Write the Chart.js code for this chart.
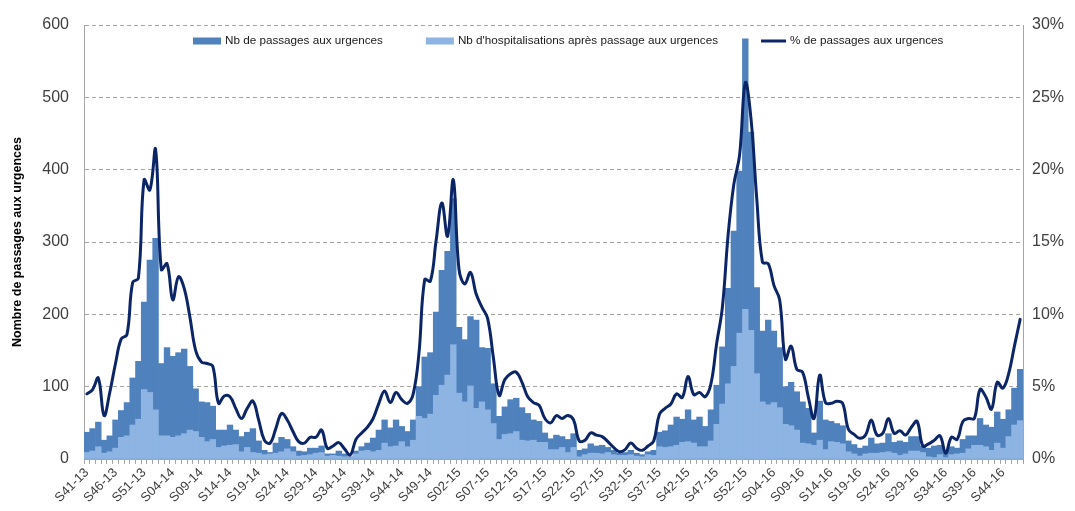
<!DOCTYPE html>
<html>
<head>
<meta charset="utf-8">
<script src="https://cdn.jsdelivr.net/npm/chart.js@4.4.0/dist/chart.umd.min.js"></script>
<style>
html,body{margin:0;padding:0;background:#ffffff;}
#wrap{width:1075px;height:511px;position:relative;}
</style>
</head>
<body>
<div id="wrap"><canvas id="c" width="1075" height="511"></canvas></div>
<script>
const weeks = [
'S41-13','S42-13','S43-13','S44-13','S45-13','S46-13','S47-13','S48-13','S49-13','S50-13','S51-13','S52-13',
'S01-14','S02-14','S03-14','S04-14','S05-14','S06-14','S07-14','S08-14','S09-14','S10-14','S11-14','S12-14','S13-14',
'S14-14','S15-14','S16-14','S17-14','S18-14','S19-14','S20-14','S21-14','S22-14','S23-14','S24-14','S25-14','S26-14',
'S27-14','S28-14','S29-14','S30-14','S31-14','S32-14','S33-14','S34-14','S35-14','S36-14','S37-14','S38-14','S39-14',
'S40-14','S41-14','S42-14','S43-14','S44-14','S45-14','S46-14','S47-14','S48-14','S49-14','S50-14','S51-14','S52-14',
'S01-15','S02-15','S03-15','S04-15','S05-15','S06-15','S07-15','S08-15','S09-15','S10-15','S11-15','S12-15','S13-15',
'S14-15','S15-15','S16-15','S17-15','S18-15','S19-15','S20-15','S21-15','S22-15','S23-15','S24-15','S25-15','S26-15',
'S27-15','S28-15','S29-15','S30-15','S31-15','S32-15','S33-15','S34-15','S35-15','S36-15','S37-15','S38-15','S39-15',
'S40-15','S41-15','S42-15','S43-15','S44-15','S45-15','S46-15','S47-15','S48-15','S49-15','S50-15','S51-15','S52-15','S53-15',
'S01-16','S02-16','S03-16','S04-16','S05-16','S06-16','S07-16','S08-16','S09-16','S10-16','S11-16','S12-16','S13-16',
'S14-16','S15-16','S16-16','S17-16','S18-16','S19-16','S20-16','S21-16','S22-16','S23-16','S24-16','S25-16','S26-16',
'S27-16','S28-16','S29-16','S30-16','S31-16','S32-16','S33-16','S34-16','S35-16','S36-16','S37-16','S38-16','S39-16',
'S40-16','S41-16','S42-16','S43-16','S44-16','S45-16','S46-16','S47-16'
];

const passages = [
37,42,51,26,32,54,67,78,112,135,217,275,
305,132,154,142,147,152,128,97,79,78,73,40,40,
47,40,31,37,42,25,12,9,22,30,27,17,11,
10,15,15,18,7,7,11,7,3,11,17,22,29,
40,54,43,54,45,38,54,100,141,147,203,261,287,
360,182,165,197,192,154,153,104,59,72,82,84,71,
63,54,52,36,28,33,31,27,35,12,14,21,18,
19,16,12,8,9,12,8,6,10,12,37,39,47,
58,55,68,54,58,45,68,102,155,236,315,398,581,452,
237,177,192,177,154,100,106,93,79,70,36,80,54,
52,49,46,25,20,15,18,29,21,22,35,23,25,
23,31,31,18,15,18,19,12,17,15,27,32,32,
56,47,44,65,55,68,98,124
];

const hospitalisations = [
9,11,17,8,10,15,30,32,47,55,96,92,
68,32,32,30,32,35,40,38,30,24,27,16,18,
19,20,10,16,9,8,6,7,8,10,14,10,4,
5,6,8,9,4,5,4,3,2,7,11,12,10,
12,22,17,18,24,17,26,59,56,62,88,102,116,
158,91,79,101,70,79,68,49,27,34,35,38,26,
25,26,23,23,13,13,16,9,16,3,6,8,8,
7,9,6,5,5,6,4,3,6,5,17,16,17,
19,23,24,22,17,17,25,48,76,104,128,174,207,178,
118,79,75,78,71,48,46,40,22,21,19,26,13,
24,23,21,10,7,4,7,8,8,9,10,8,5,
7,11,11,9,3,2,6,2,6,7,8,14,19,
19,17,12,22,15,31,47,53
];

const pctPassages = [
4.5,4.8,5.6,3.0,4.6,6.6,8.3,8.6,12.2,12.5,19.3,18.6,
21.4,13.1,13.5,11.0,12.6,11.8,9.8,7.5,6.7,6.6,6.4,3.85,4.35,
4.3,3.5,2.8,3.5,4.0,2.7,1.3,1.1,2.1,3.15,2.7,1.9,1.2,
1.1,1.5,1.5,2.0,0.74,0.9,1.13,0.7,0.28,1.36,1.8,2.2,2.8,
3.85,4.7,3.9,4.6,4.1,3.85,4.5,7.3,12.4,12.3,15.1,17.7,15.4,
19.3,13.1,12.1,12.9,11.4,10.5,9.7,7.0,4.4,5.5,5.9,6.0,5.3,
4.3,3.9,3.7,2.8,2.5,3.0,2.8,3.0,2.7,1.25,1.3,1.8,1.65,
1.55,1.2,0.8,0.5,0.65,1.1,0.75,0.6,0.9,1.25,3.1,3.5,3.8,
4.5,4.25,5.7,4.45,4.6,4.3,5.2,8.0,10.5,15.5,19.0,21.0,26.0,23.5,
18.0,13.6,13.5,12.0,11.0,6.9,7.8,6.2,6.0,4.3,2.8,5.8,3.9,
3.85,4.0,3.85,2.05,1.7,1.43,1.66,2.7,1.66,1.77,2.8,1.77,1.96,
1.66,2.2,2.6,0.9,1.04,1.3,1.6,0.4,1.5,1.36,2.6,2.8,2.8,
4.8,4.3,3.45,5.3,4.9,5.9,7.8,9.65
];

const seriesNames = [
  'Nb de passages aux urgences',
  "Nb d'hospitalisations après passage aux urgences",
  '% de passages aux urgences'
];
const leftAxisTitle = 'Nombre de passages aux urgences';

const COLORS = { passages: '#4F81BD', hosp: '#8DB4E2', pct: '#0B2566', grid: '#A6A6A6', text: '#404040' };

Chart.defaults.font.family = "'Liberation Sans', Arial, sans-serif";

const excelLegend = {
  id: 'excelLegend',
  afterDatasetsDraw(chart, args, opts) {
    const ctx = chart.ctx;
    const dsets = chart.data.datasets;
    ctx.save();
    ctx.font = opts.font;
    ctx.textBaseline = 'middle';
    ctx.textAlign = 'left';
    let x = opts.left;
    const y = opts.y;
    dsets.forEach(d => {
      if (d.type === 'line') {
        ctx.strokeStyle = d.borderColor;
        ctx.lineWidth = 3;
        ctx.beginPath();
        ctx.moveTo(x, y);
        ctx.lineTo(x + opts.lineLen, y);
        ctx.stroke();
        x += opts.lineLen;
      } else {
        ctx.fillStyle = d.backgroundColor;
        ctx.fillRect(x, y - opts.boxH / 2, opts.boxW, opts.boxH);
        x += opts.boxW;
      }
      x += opts.gap;
      ctx.fillStyle = opts.color;
      ctx.fillText(d.label, x, y);
      x += ctx.measureText(d.label).width + opts.spacing;
    });
    ctx.restore();
  }
};

new Chart(document.getElementById('c'), {
  data: {
    labels: weeks,
    datasets: [
      { type: 'bar', label: seriesNames[0], data: passages, backgroundColor: COLORS.passages,
        yAxisID: 'y', order: 3, grouped: false, categoryPercentage: 1, barPercentage: 1, borderWidth: 0 },
      { type: 'bar', label: seriesNames[1], data: hospitalisations, backgroundColor: COLORS.hosp,
        yAxisID: 'y', order: 2, grouped: false, categoryPercentage: 1, barPercentage: 1, borderWidth: 0 },
      { type: 'line', label: seriesNames[2], data: pctPassages, borderColor: COLORS.pct, backgroundColor: COLORS.pct,
        yAxisID: 'y1', order: 1, borderWidth: 3, pointRadius: 0, pointHoverRadius: 0, tension: 0.4,
        cubicInterpolationMode: 'default', fill: false, borderJoinStyle: 'round', borderCapStyle: 'round' }
    ]
  },
  options: {
    responsive: false,
    animation: false,
    devicePixelRatio: 1,
    layout: { padding: { top: 25, left: 0, right: 0, bottom: 0 } },
    plugins: {
      legend: { display: false },
      tooltip: { enabled: false },
      excelLegend: { left: 193, y: 41, boxW: 28, boxH: 7, lineLen: 25, gap: 4, spacing: 43,
        font: "11.7px 'Liberation Sans', Arial, sans-serif", color: '#1a1a1a' }
    },
    scales: {
      x: {
        type: 'category',
        offset: true,
        grid: { display: true, offset: true, drawOnChartArea: false, drawTicks: true, tickLength: 5, color: COLORS.grid, tickColor: COLORS.grid },
        border: { display: true, color: COLORS.grid, width: 1 },
        ticks: {
          autoSkip: false, maxRotation: 45, minRotation: 45, padding: 1,
          color: COLORS.text, font: { size: 13 },
          callback: function (value, index) { return index % 5 === 0 ? weeks[index] : ''; }
        },
        afterFit: function (s) { s.height = 52; }
      },
      y: {
        position: 'left', min: 0, max: 600,
        ticks: { stepSize: 100, padding: 15, color: COLORS.text, font: { size: 16 } },
        grid: { display: true, drawTicks: false, color: COLORS.grid, lineWidth: 1 },
        border: { display: true, color: COLORS.grid, dash: [4, 3] },
        title: { display: true, text: leftAxisTitle, color: '#000000', font: { size: 12.5, weight: 'bold' }, padding: { top: 10, bottom: 0 } },
        afterFit: function (s) { s.width = 84; }
      },
      y1: {
        position: 'right', min: 0, max: 30,
        ticks: { stepSize: 5, padding: 9, color: COLORS.text, font: { size: 16 }, callback: v => v + '%' },
        grid: { display: false, drawTicks: false },
        border: { display: true, color: COLORS.grid },
        afterFit: function (s) { s.width = 52; }
      }
    }
  },
  plugins: [excelLegend]
});
</script>
</body>
</html>
